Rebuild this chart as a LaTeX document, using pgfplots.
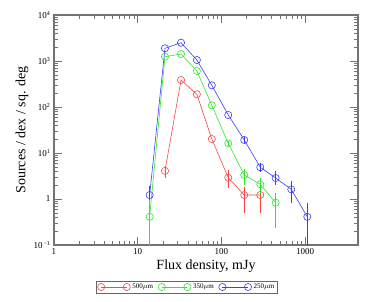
\documentclass[border=0pt]{standalone}
\usepackage{fontspec}
\setmainfont{Liberation Serif}
\usepackage{pgfplots}
\pgfplotsset{compat=1.18}
\definecolor{cr}{RGB}{250,70,70}
\definecolor{cg}{RGB}{40,235,40}
\definecolor{cb}{RGB}{60,60,250}
\begin{document}
\begin{tikzpicture}
\useasboundingbox (-54pt,-56pt) rectangle (320pt,245pt);
\begin{axis}[
  scale only axis, width=304pt, height=230pt,
  xmode=log, ymode=log,
  xmin=1, xmax=4300, ymin=0.1, ymax=10000,
  unbounded coords=jump,
  axis line style={black!55, line width=1.1pt},
  major tick style={black!55, line width=0.8pt},
  minor tick style={black!55, line width=0.6pt},
  major tick length=8pt, minor tick length=4pt,
  tick align=inside,
  xtick={1,10,100,1000}, xticklabels={1,10,100,1000},
  ytick={0.1,1,10,100,1000,10000},
  yticklabels={10\textsuperscript{\,−1},1,10\textsuperscript{1},10\textsuperscript{2},10\textsuperscript{3},10\textsuperscript{4}},
  ticklabel style={font=\fontsize{9}{10}\selectfont},
  xlabel={Flux density, mJy},
  ylabel={Sources / dex / sq. deg},
  label style={font=\fontsize{14}{16}\selectfont},
  xlabel style={at={(axis description cs:0.5,-0.094)}, anchor=center},
  ylabel style={at={(axis description cs:-0.105,0.5)}, anchor=center},
  legend columns=3,
  legend style={at={(axis description cs:0.4375,-0.1826)}, anchor=center,
    draw=black!60, line width=0.8pt, font=\fontsize{7}{8}\selectfont,
    inner sep=1pt, row sep=0pt,
    /tikz/every even column/.append style={column sep=3pt}},
  legend image code/.code={\draw[#1, line width=0.6pt] plot coordinates {(0cm,0cm) (0.9cm,0cm)};},
]
% error bars (low, high) per point
\addplot[draw=cr, color=cr, line width=0.9pt, mark=none, forget plot] coordinates {
 (21.2,2.85) (21.2,5.2) (21.2,nan)
 (121,1.76) (121,4.27) (121,nan)
 (188,0.50) (188,1.80) (188,nan)
 (292,0.50) (292,2.19)
};
\addplot[draw=cg, color=cg, line width=0.9pt, mark=none, forget plot] coordinates {
 (13.9,0.005) (13.9,1.01) (13.9,nan)
 (121,14.2) (121,18.2) (121,nan)
 (188,2.0) (188,4.6) (188,nan)
 (292,1.33) (292,2.9) (292,nan)
 (446,0.23) (446,1.37)
};
\addplot[draw=cb, color=cb, line width=0.9pt, mark=none, forget plot] coordinates {
 (13.9,0.95) (13.9,1.9) (13.9,nan)
 (188,16.7) (188,22.2) (188,nan)
 (292,3.9) (292,6.0) (292,nan)
 (446,2.0) (446,4.1) (446,nan)
 (686,0.81) (686,2.46) (686,nan)
 (1065,0.005) (1065,0.83)
};
\addplot[color=cr, line width=0.6pt, mark=o, mark size=3.6pt] coordinates {
 (21.2,4.1) (33,386) (51,189) (77,20.1) (121,2.9) (188,1.22) (292,1.22)
};
\addlegendentry{500$\mu$m}
\addplot[color=cg, line width=0.6pt, mark=o, mark size=3.6pt] coordinates {
 (13.9,0.41) (21.2,1240) (33,1420) (51,607) (77,109) (121,16.2) (188,3.33) (292,2.09) (446,0.83)
};
\addlegendentry{350$\mu$m}
\addplot[color=cb, line width=0.6pt, mark=o, mark size=3.6pt] coordinates {
 (13.9,1.22) (21.2,1890) (33,2500) (51,1050) (77,296) (121,67) (188,19.2) (292,4.9) (446,2.86) (686,1.62) (1065,0.41)
};
\addlegendentry{250$\mu$m}
\end{axis}
\end{tikzpicture}
\end{document}
